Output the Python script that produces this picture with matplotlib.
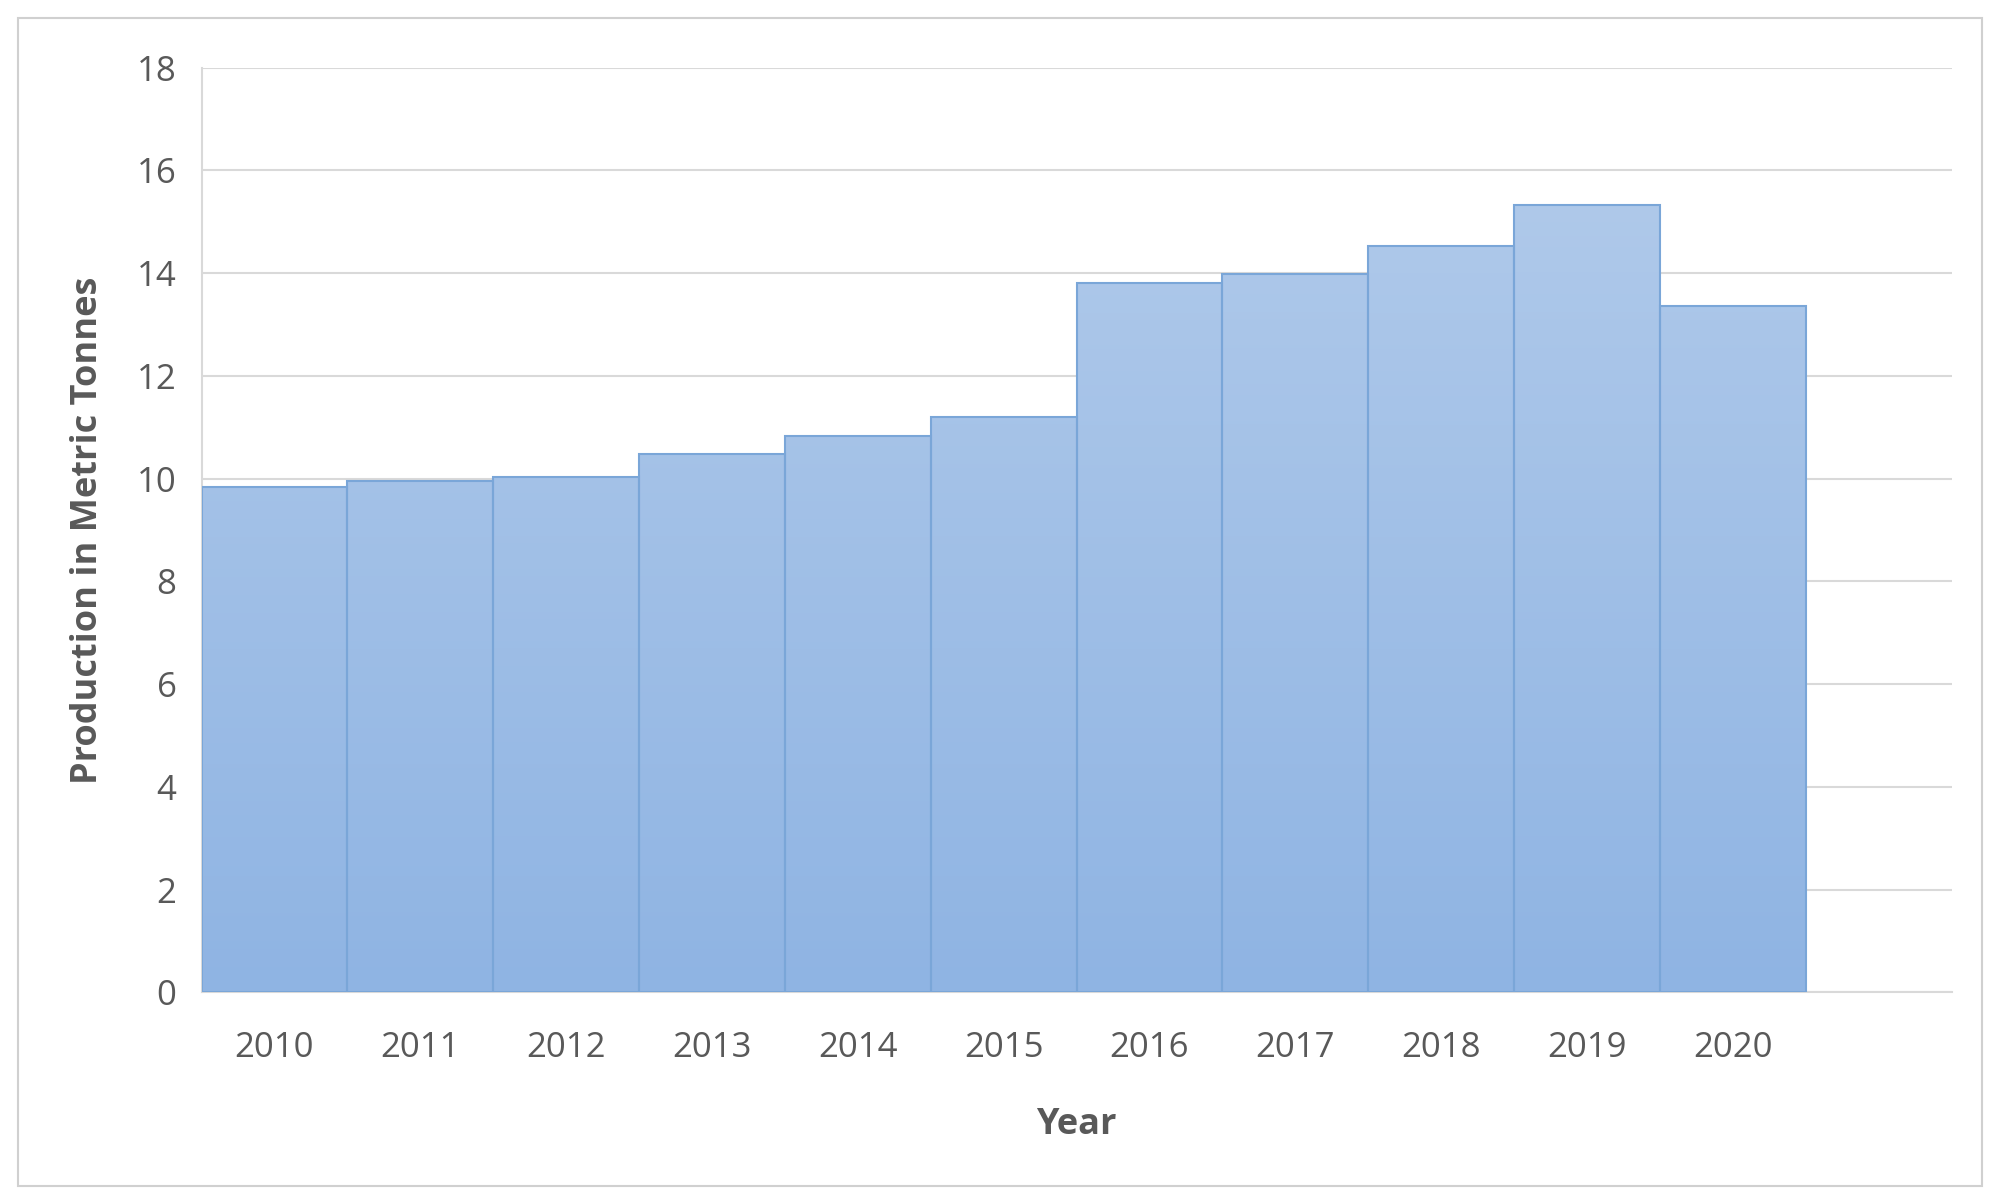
import matplotlib
matplotlib.use("Agg")
import matplotlib.pyplot as plt
import numpy as np
from matplotlib.patches import Rectangle

years = ["2010","2011","2012","2013","2014","2015","2016","2017","2018","2019","2020"]
production = [9.83, 9.96, 10.03, 10.48, 10.82, 11.2, 13.8, 13.98, 14.52, 15.32, 13.36]

plt.rcParams['font.family'] = ['Open Sans', 'DejaVu Sans']
fig = plt.figure(figsize=(20, 12.04), dpi=100)
fig.patches.append(Rectangle((14/1568, 1-930/944), (1554-14)/1568, (930-14)/944,
                             transform=fig.transFigure, fill=False, ec='#d0d0d0', lw=1.5))
ax = fig.add_axes([158/1568, 1-778/944, (1530-158)/1568, (778-53)/944])
ax.set_xlim(-0.5, 11.5)
ax.set_ylim(0, 18)
ax.set_yticks(range(0, 19, 2))
ax.grid(axis='y', color='#d9d9d9', lw=1.5)
ax.set_axisbelow(True)
for s in ['top', 'right']:
    ax.spines[s].set_visible(False)
for s in ['left', 'bottom']:
    ax.spines[s].set_color('#d9d9d9'); ax.spines[s].set_linewidth(1.5)

grad = np.linspace(0, 1, 256).reshape(-1, 1)
from matplotlib.colors import LinearSegmentedColormap
cmap = LinearSegmentedColormap.from_list('g', ['#8fb4e3', '#afc9ea'])
bars = ax.bar(range(len(years)), production, width=1.0, color='none',
              edgecolor='#7aa6d8', linewidth=1.5, zorder=3)
for b in bars:
    im = ax.imshow(grad, extent=[-0.5, 11.5, 0, 18], origin='lower', cmap=cmap,
                   aspect='auto', zorder=2, vmin=0, vmax=1 * 15.5 / 18)
    im.set_clip_path(b)
ax.set_xlim(-0.5, 11.5)
ax.set_ylim(0, 18)
ax.set_xticks(range(len(years)))
ax.set_xticklabels(years)
ax.tick_params(length=0, labelsize=25, colors='#595959', pad=18)
ax.tick_params(axis='x', pad=28)
ax.set_xlabel('Year', fontsize=26, fontweight='bold', color='#595959', labelpad=30)
ax.set_ylabel('Production in Metric Tonnes', fontsize=26, fontweight='bold', color='#595959', labelpad=22)
fig.savefig('out.png', dpi=100)
